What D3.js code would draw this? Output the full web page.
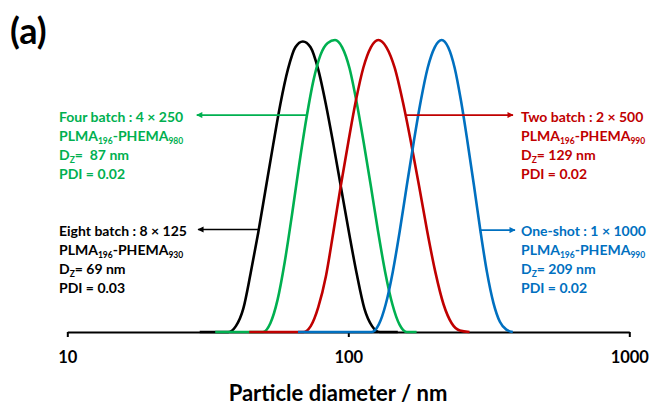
<!DOCTYPE html>
<html>
<head>
<meta charset="utf-8">
<script src="https://cdn.jsdelivr.net/npm/d3@7"></script>
<style>
  body { margin: 0; background: #fff; }
  svg { display: block; font-family: Lato, "Open Sans", sans-serif; font-weight: bold; }
  text { white-space: pre; }
</style>
</head>
<body>
<script>
// particle diameter (nm) and intensity (%)
var eightDiam = [29.6, 33.5, 37.4, 39.8, 42.3, 44.9, 47.8, 50.8, 54.0, 57.3, 61.0, 64.8, 68.9, 73.4, 78.1, 83.2, 88.6, 94.4, 100.6, 107.1, 114.1, 121.5, 129.4, 140, 150];
var eightInt  = [0, 0, 0, 2, 8, 20, 34, 49, 64, 78, 90, 97.5, 99.5, 97.5, 90, 78, 64, 49, 34, 20, 8, 2, 0, 0, 0];

var fourDiam = [33.6, 38, 44, 49.7, 52.8, 56.0, 59.4, 63.0, 66.8, 70.9, 75.1, 79.7, 84.5, 89.7, 95.1, 100.9, 106.9, 113.4, 120.3, 127.6, 135.3, 143.5, 152.2, 161.4, 175];
var fourInt  = [0, 0, 0, 0, 3, 11, 24, 40, 57, 73, 86, 95, 99, 100, 97.5, 90.5, 79, 65, 50, 34.5, 20.5, 9.5, 2.5, 0, 0];

var twoDiam = [44.4, 52, 60, 69.2, 73.5, 78.2, 83.2, 88.4, 94.0, 100.0, 106.3, 113.1, 120.3, 127.9, 136.7, 146.2, 156.2, 167.1, 178.6, 190.9, 204.1, 218.2, 233.3, 249.4, 270];
var twoInt  = [0, 0, 0, 0, 2, 8.5, 19, 34, 50, 65, 79, 90.5, 97.5, 100, 97.5, 90.5, 79, 65, 50, 34.5, 20.5, 9.5, 3, 0.5, 0];

var oneDiam = [66.2, 80, 100, 121.2, 128.3, 135.9, 143.9, 152.4, 161.4, 170.9, 181.0, 191.7, 203.0, 215.0, 226.7, 239.0, 252.0, 265.7, 280.2, 295.4, 311.5, 328.4, 346.3, 365.1, 385];
var oneInt  = [0, 0, 0, 0, 2.5, 9.5, 20.5, 34.5, 50, 65, 79, 90.5, 97.5, 100, 97.5, 90.5, 79, 65, 50, 34.5, 20.5, 10, 3.5, 0.8, 0];

var xTicks = [10, 100, 1000];
var xTitle = "Particle diameter / nm";
var panelLabel = "(a)";

// arrow: [diameter on curve, diameter at tip, intensity level]
var eightArrow = [48.2, 29.2, 35.1];
var fourArrow  = [70.7, 28.9, 74.3];
var twoArrow   = [159.8, 385.6, 74.3];
var oneArrow   = [294.2, 392, 34.9];

// label lines: [text, subscript] pieces
var eightLabel = [[["Eight batch : 8 × 125"]], [["PLMA"], ["196", 1], ["-PHEMA"], ["930", 1]], [["D"], ["Z", 1], ["= 69 nm"]], [["PDI = 0.03"]]];
var fourLabel  = [[["Four batch : 4 × 250"]], [["PLMA"], ["196", 1], ["-PHEMA"], ["980", 1]], [["D"], ["Z", 1], ["=  87 nm"]], [["PDI = 0.02"]]];
var twoLabel   = [[["Two batch : 2 × 500"]], [["PLMA"], ["196", 1], ["-PHEMA"], ["990", 1]], [["D"], ["Z", 1], ["= 129 nm"]], [["PDI = 0.02"]]];
var oneLabel   = [[["One-shot : 1 × 1000"]], [["PLMA"], ["196", 1], ["-PHEMA"], ["990", 1]], [["D"], ["Z", 1], ["= 209 nm"]], [["PDI = 0.02"]]];

var series = [
    {name: "eight", color: "#000000", diam: eightDiam, val: eightInt, arrow: eightArrow, label: eightLabel, lx: 59, ly: 235.5},
    {name: "four", color: "#00b050", diam: fourDiam, val: fourInt, arrow: fourArrow, label: fourLabel, lx: 59, ly: 121.5},
    {name: "two", color: "#c00000", diam: twoDiam, val: twoInt, arrow: twoArrow, label: twoLabel, lx: 521, ly: 121.5},
    {name: "one", color: "#0070c0", diam: oneDiam, val: oneInt, arrow: oneArrow, label: oneLabel, lx: 521, ly: 235.5}
];

var width = 649, height = 406;

var svg = d3.select("body").append("svg")
    .attr("width", width)
    .attr("height", height);

var x = d3.scaleLog().domain([10, 1000]).range([67.3, 629.3]);
var y = d3.scaleLinear().domain([0, 100]).range([332, 40]);

var defs = svg.append("defs");
series.forEach(function (s) {
    defs.append("marker")
        .attr("id", "head-" + s.name)
        .attr("viewBox", "0 0 10 10")
        .attr("refX", 9).attr("refY", 5)
        .attr("markerWidth", 4.2).attr("markerHeight", 3.6)
        .attr("markerUnits", "strokeWidth")
        .attr("orient", "auto")
        .append("path")
        .attr("d", "M0,0L10,5L0,10Z")
        .attr("fill", s.color);
});

// x axis
var axis = svg.append("g")
    .attr("transform", "translate(0," + y(0) + ")")
    .call(d3.axisBottom(x)
        .tickValues(xTicks)
        .tickFormat(d3.format("d"))
        .tickSize(5)
        .tickSizeOuter(0)
        .tickPadding(14));
axis.select(".domain").attr("stroke", "#000").attr("stroke-width", 2);
axis.selectAll(".tick line").attr("stroke", "#000").attr("stroke-width", 2);
axis.selectAll(".tick text")
    .attr("fill", "#000")
    .attr("font-family", "Lato, sans-serif")
    .attr("font-weight", "bold")
    .attr("font-size", 16.5);

svg.append("text")
    .attr("x", 338).attr("y", 401)
    .attr("text-anchor", "middle")
    .attr("font-size", 22)
    .attr("fill", "#000")
    .text(xTitle);

svg.append("text")
    .attr("x", 10).attr("y", 44)
    .attr("font-size", 36)
    .attr("fill", "#000")
    .text(panelLabel);

var line = d3.line()
    .x(d => x(d[0]))
    .y(d => y(d[1]))
    .curve(d3.curveMonotoneX);

// curves
svg.append("g")
    .attr("fill", "none")
    .attr("stroke-width", 2.6)
    .attr("stroke-linejoin", "round")
    .selectAll("path")
    .data(series)
    .join("path")
    .attr("stroke", d => d.color)
    .attr("d", d => line(d.diam.map((v, i) => [v, d.val[i]])));

// arrows
svg.append("g")
    .selectAll("line")
    .data(series)
    .join("line")
    .attr("x1", d => x(d.arrow[0]))
    .attr("x2", d => x(d.arrow[1]))
    .attr("y1", d => y(d.arrow[2]))
    .attr("y2", d => y(d.arrow[2]))
    .attr("stroke", d => d.color)
    .attr("stroke-width", 1.7)
    .attr("marker-end", d => "url(#head-" + d.name + ")");

// labels
series.forEach(function (s) {
    var t = svg.append("text")
        .attr("font-size", 14)
        .attr("fill", s.color);
    s.label.forEach(function (parts, li) {
        var lineY = s.ly + li * 19;
        parts.forEach(function (p, pi) {
            var ts = t.append("tspan").text(p[0]);
            if (pi === 0) ts.attr("x", s.lx);
            if (p[1]) {
                ts.attr("y", lineY + 3).attr("font-size", 8.5);
            } else {
                ts.attr("y", lineY);
            }
        });
    });
});
</script>
</body>
</html>
